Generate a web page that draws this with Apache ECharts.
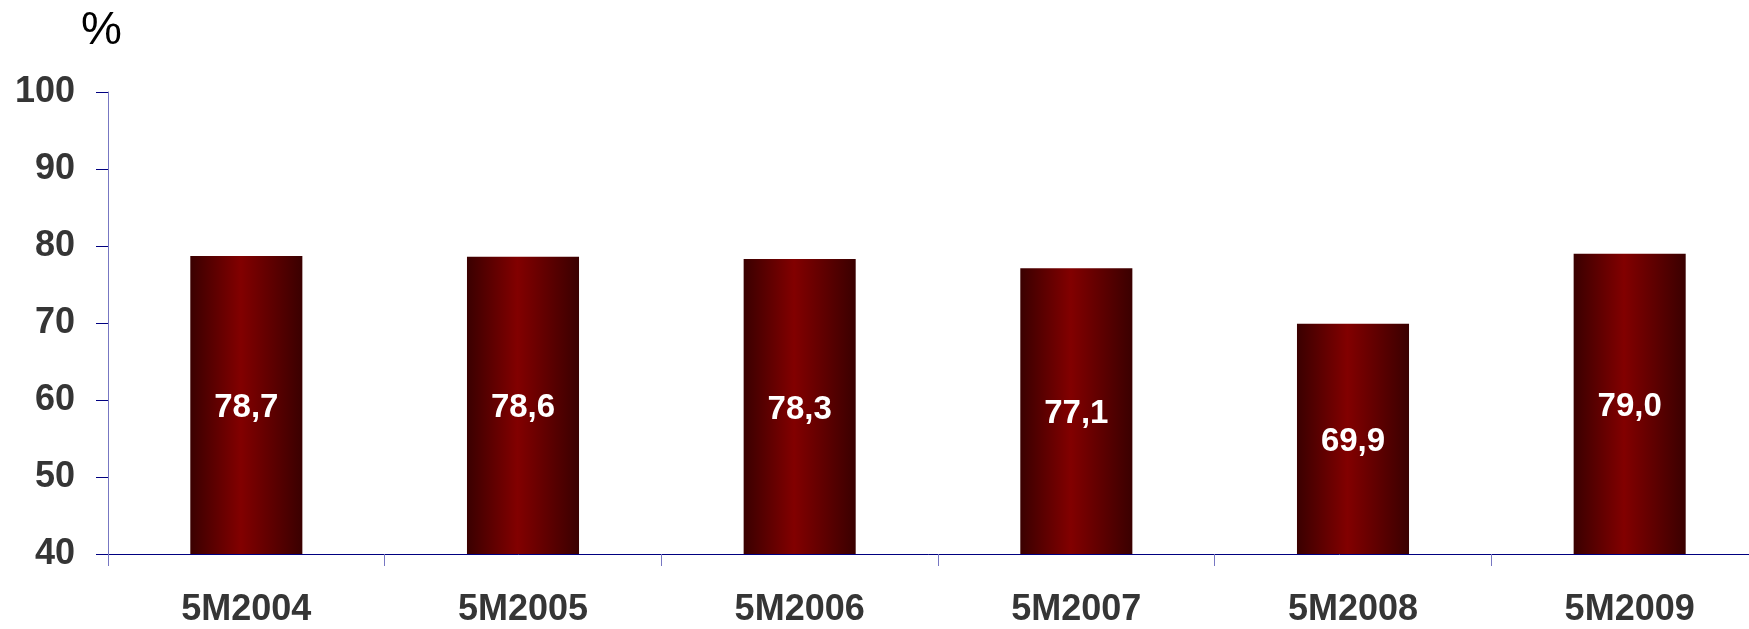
<!DOCTYPE html>
<html>
<head>
<meta charset="UTF-8">
<title>5M</title>
<script src="https://cdn.jsdelivr.net/npm/echarts@6/dist/echarts.min.js"></script>
<style>
  html, body { margin: 0; padding: 0; background: #fff; }
  #chart { width: 1749px; height: 629px; }
</style>
</head>
<body>
<div id="chart"></div>
<script>
    // data
    var categories = ['5M2004', '5M2005', '5M2006', '5M2007', '5M2008', '5M2009']
    var values = [78.7, 78.6, 78.3, 77.1, 69.9, 79.0]
    var yTicks = [40, 50, 60, 70, 80, 90, 100]

    var chart = echarts.init(document.getElementById('chart'))

    var barColor = new echarts.graphic.LinearGradient(0, 0, 1, 0, [
        {offset: 0, color: '#3a0000'},
        {offset: 0.45, color: '#820000'},
        {offset: 1, color: '#3a0000'}
    ])

    var option = {
        animation: false,
        graphic: [{
            type: 'text',
            left: 81,
            top: 8,
            style: {text: '%', font: 'normal 46px "Liberation Sans"', fill: '#000'}
        }],
        grid: {left: 108, right: -19, top: 92, bottom: 75, outerBoundsMode: 'none'},
        xAxis: {
            type: 'category',
            data: categories,
            axisLine: {lineStyle: {color: '#000080', width: 1}},
            axisTick: {show: true, length: 12, lineStyle: {color: '#7777c2', width: 1}},
            axisLabel: {
                margin: 38,
                fontFamily: 'Liberation Sans',
                fontSize: 36,
                fontWeight: 'bold',
                color: '#353535'
            }
        },
        yAxis: {
            type: 'value',
            min: yTicks[0],
            max: yTicks[yTicks.length - 1],
            interval: 10,
            splitLine: {show: false},
            axisLine: {show: true, lineStyle: {color: '#7777c2', width: 1}},
            axisTick: {show: true, length: 12, lineStyle: {color: '#000080', width: 1}},
            axisLabel: {
                margin: 33,
                fontFamily: 'Liberation Sans',
                fontSize: 36,
                fontWeight: 'bold',
                color: '#353535'
            }
        },
        series: [{
            type: 'bar',
            data: values,
            barWidth: '40.5%',
            itemStyle: {color: barColor},
            label: {
                show: true,
                position: 'inside',
                offset: [0, 3],
                fontFamily: 'Liberation Sans',
                fontSize: 33,
                fontWeight: 'bold',
                color: '#fff',
                formatter: function (p) {
                    return p.value.toFixed(1).replace('.', ',')
                }
            }
        }]
    }

    chart.setOption(option)
</script>
</body>
</html>
